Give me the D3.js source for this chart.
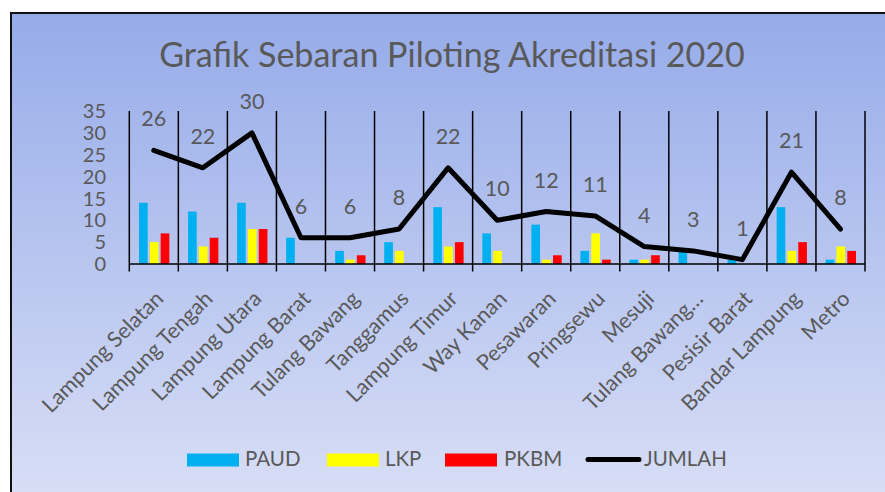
<!DOCTYPE html>
<html>
<head>
<meta charset="utf-8">
<script src="https://cdn.jsdelivr.net/npm/d3@7"></script>
<style>
  body { margin: 0; background: #fff; }
  svg { display: block; }
  text { font-family: Lato, "Open Sans", sans-serif; fill: #595959; }
</style>
</head>
<body>
<svg width="885" height="492"></svg>
<script>
var regions = ["Lampung Selatan", "Lampung Tengah", "Lampung Utara", "Lampung Barat", "Tulang Bawang",
  "Tanggamus", "Lampung Timur", "Way Kanan", "Pesawaran", "Pringsewu", "Mesuji",
  "Tulang Bawang…", "Pesisir Barat", "Bandar Lampung", "Metro"]
var paud   = [14, 12, 14, 6, 3, 5, 13, 7, 9, 3, 1, 3, 1, 13, 1]
var lkp    = [5, 4, 8, 0, 1, 3, 4, 3, 1, 7, 1, 0, 0, 3, 4]
var pkbm   = [7, 6, 8, 0, 2, 0, 5, 0, 2, 1, 2, 0, 0, 5, 3]
var jumlah = [26, 22, 30, 6, 6, 8, 22, 10, 12, 11, 4, 3, 1, 21, 8]
var seriesNames = ["PAUD", "LKP", "PKBM"]
var seriesColors = ["#00b0f0", "#ffff00", "#ff0000"]
var yTicks = [0, 5, 10, 15, 20, 25, 30, 35]
var title = "Grafik Sebaran Piloting Akreditasi 2020"

var width = 885, height = 492
var svg = d3.select("svg")

// background panel with gradient
var defs = svg.append("defs")
var grad = defs.append("linearGradient").attr("id", "bg")
  .attr("x1", 0).attr("y1", 0).attr("x2", 0).attr("y2", 1)
grad.append("stop").attr("offset", "0%").attr("stop-color", "#96abe9")
grad.append("stop").attr("offset", "100%").attr("stop-color", "#dce1f6")

svg.append("rect")
  .attr("x", 11).attr("y", 13)
  .attr("width", width + 20).attr("height", height + 20)
  .attr("fill", "url(#bg)")
  .attr("stroke", "#111").attr("stroke-width", 2)

// title, fitted to the reference width
var t = svg.append("text")
  .attr("x", 452).attr("y", 67)
  .attr("text-anchor", "middle")
  .style("font-size", "34px")
  .text(title)
var tw = t.node().getComputedTextLength()
t.style("font-size", (34 * 586 / tw) + "px")

var x0 = d3.scaleBand().domain(regions).range([129.3, 865]).padding(0)
var bw = x0.bandwidth()
var x1 = d3.scaleBand().domain(seriesNames)
  .range([bw * 0.198, bw * 0.816]).paddingInner(0.2).paddingOuter(0)
var y = d3.scaleLinear().domain([0, 35]).range([264, 111])

var table = regions.map((r, i) => ({ region: r, PAUD: paud[i], LKP: lkp[i], PKBM: pkbm[i], JUMLAH: jumlah[i] }))

// category separators (ticks extended up)
svg.append("g")
  .selectAll("line")
  .data(regions.concat(["end"]))
  .join("line")
  .attr("x1", (d, i) => i < regions.length ? x0(d) : x0.range()[1])
  .attr("x2", (d, i) => i < regions.length ? x0(d) : x0.range()[1])
  .attr("y1", y(35)).attr("y2", 271.5)
  .attr("stroke", "#000").attr("stroke-width", 1.5)

// y tick labels
svg.append("g")
  .selectAll("text")
  .data(yTicks)
  .join("text")
  .attr("x", 106).attr("y", d => y(d))
  .attr("dy", "0.36em")
  .attr("text-anchor", "end")
  .style("font-size", "20px")
  .text(d => d)

// bars
var groups = svg.append("g")
  .selectAll("g")
  .data(table)
  .join("g")
  .attr("transform", d => `translate(${x0(d.region)},0)`)

groups.selectAll("rect")
  .data(d => seriesNames.map((k, j) => ({ key: k, value: d[k], color: seriesColors[j] })))
  .join("rect")
  .attr("x", d => x1(d.key))
  .attr("width", x1.bandwidth())
  .attr("y", d => y(d.value))
  .attr("height", d => y(0) - y(d.value))
  .attr("fill", d => d.color)

// x axis line
svg.append("line")
  .attr("x1", x0.range()[0]).attr("x2", x0.range()[1])
  .attr("y1", y(0)).attr("y2", y(0))
  .attr("stroke", "#000").attr("stroke-width", 1.5)

// jumlah line
var line = d3.line()
  .x(d => x0(d.region) + bw / 2)
  .y(d => y(d.JUMLAH))

svg.append("path")
  .datum(table)
  .attr("d", line)
  .attr("fill", "none")
  .attr("stroke", "#000")
  .attr("stroke-width", 5)
  .attr("stroke-linejoin", "round")
  .attr("stroke-linecap", "round")

svg.append("g")
  .selectAll("text")
  .data(table)
  .join("text")
  .attr("x", d => x0(d.region) + bw / 2)
  .attr("y", d => y(d.JUMLAH) - 24)
  .attr("text-anchor", "middle")
  .style("font-size", "21.5px")
  .text(d => d.JUMLAH)

// category labels
svg.append("g")
  .selectAll("text")
  .data(regions)
  .join("text")
  .attr("transform", d => `translate(${x0(d) + bw / 2 + 11},300) rotate(-45)`)
  .attr("text-anchor", "end")
  .style("font-size", "21.5px")
  .text(d => d)

// legend
var legendItems = [
  { name: "PAUD", color: seriesColors[0], x: 187, tx: 245 },
  { name: "LKP", color: seriesColors[1], x: 327, tx: 385 },
  { name: "PKBM", color: seriesColors[2], x: 445, tx: 504 }
]
var legend = svg.append("g")
legend.selectAll("rect")
  .data(legendItems)
  .join("rect")
  .attr("x", d => d.x).attr("y", 453.5)
  .attr("width", 52).attr("height", 13)
  .attr("fill", d => d.color)
legend.append("line")
  .attr("x1", 588).attr("x2", 639)
  .attr("y1", 459.5).attr("y2", 459.5)
  .attr("stroke", "#000").attr("stroke-width", 5)
  .attr("stroke-linecap", "round")
legend.selectAll("text")
  .data(legendItems.concat([{ name: "JUMLAH", tx: 644 }]))
  .join("text")
  .attr("x", d => d.tx).attr("y", 466)
  .style("font-size", "20.5px")
  .text(d => d.name)
</script>
</body>
</html>
